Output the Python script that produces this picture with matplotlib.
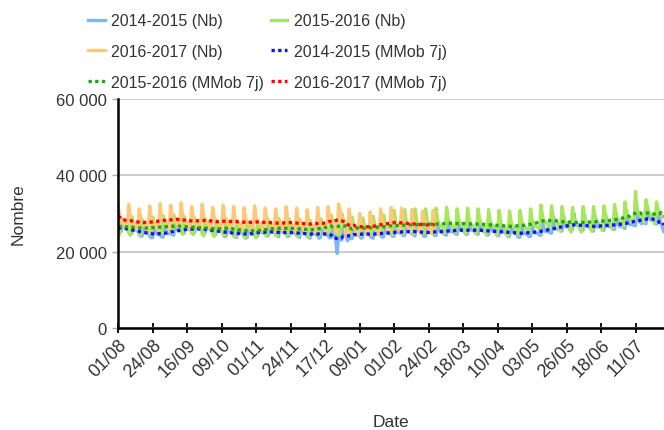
import numpy as np
import pandas as pd
from matplotlib import pyplot as plt

# daily counts, in hundreds, one line = one week (starting 01/08)
nb_2014 = [
    258, 251, 253, 280, 268, 263, 261,  252, 245, 247, 275, 262, 255, 257,
    245, 240, 241, 270, 256, 250, 249,  241, 236, 237, 266, 251, 246, 245,
    243, 238, 238, 268, 253, 248, 247,  249, 244, 243, 274, 259, 254, 255,
    253, 248, 248, 278, 263, 258, 257,  255, 250, 250, 281, 265, 260, 259,
    253, 247, 249, 279, 262, 258, 257,  250, 243, 245, 273, 258, 255, 253,
    246, 239, 241, 269, 256, 249, 251,  242, 238, 237, 269, 252, 249, 247,
    240, 235, 237, 265, 252, 245, 247,  246, 239, 241, 269, 256, 249, 251,
    246, 243, 241, 273, 256, 253, 251,  244, 241, 239, 271, 254, 251, 249,
    246, 239, 241, 269, 256, 249, 251,  242, 239, 237, 267, 254, 247, 249,
    240, 237, 235, 267, 250, 247, 245,  242, 235, 237, 265, 252, 245, 247,
    242, 236, 236, 262, 250, 232, 195,  240, 232, 230, 262, 250, 240, 228,
    240, 234, 234, 264, 249, 244, 244,  242, 235, 237, 265, 252, 245, 247,
    240, 237, 235, 267, 250, 247, 245,  243, 238, 238, 270, 253, 247, 249,
    245, 240, 240, 272, 255, 249, 251,  247, 242, 242, 274, 257, 251, 253,
    246, 243, 241, 275, 256, 252, 251,  245, 240, 240, 271, 255, 250, 249,
    247, 242, 242, 273, 257, 251, 252,  248, 244, 243, 278, 259, 253, 253,
    250, 246, 245, 280, 261, 255, 255,  251, 245, 246, 279, 260, 256, 255,
    250, 246, 245, 281, 261, 254, 255,  249, 243, 244, 277, 259, 253, 253,
    247, 241, 242, 275, 257, 251, 251,  245, 239, 240, 273, 255, 249, 249,
    243, 237, 238, 271, 253, 247, 247,  245, 239, 240, 273, 255, 249, 249,
    248, 243, 243, 280, 259, 253, 252,  254, 249, 248, 286, 265, 259, 259,
    260, 254, 254, 294, 271, 264, 265,  264, 258, 258, 300, 275, 268, 269,
    262, 256, 256, 296, 273, 267, 266,  260, 254, 254, 294, 271, 264, 265,
    262, 256, 256, 298, 273, 266, 265,  264, 258, 258, 302, 275, 267, 266,
    268, 262, 261, 308, 279, 271, 271,  273, 268, 268, 316, 285, 277, 273,
    280, 274, 273, 318, 291, 283, 283,  279, 273, 272, 310, 289, 275, 262,
    252,
]

nb_2015 = [
    252, 245, 288, 277, 267, 265, 260,  250, 243, 292, 273, 263, 265, 258,
    246, 243, 284, 273, 263, 261, 256,  249, 245, 290, 272, 265, 263, 258,
    251, 246, 294, 275, 266, 265, 260,  253, 248, 296, 278, 267, 268, 261,
    252, 245, 292, 276, 266, 265, 260,  249, 244, 288, 275, 264, 263, 259,
    247, 241, 287, 272, 263, 261, 257,  245, 240, 284, 270, 260, 260, 255,
    247, 242, 286, 271, 263, 261, 258,  243, 238, 282, 268, 258, 257, 254,
    240, 235, 278, 265, 256, 254, 251,  241, 236, 280, 266, 257, 255, 251,
    245, 240, 284, 270, 261, 259, 255,  247, 242, 287, 272, 262, 261, 257,
    246, 243, 285, 273, 262, 262, 257,  245, 240, 284, 270, 260, 260, 255,
    243, 238, 282, 268, 258, 258, 253,  247, 242, 286, 272, 262, 262, 257,
    252, 248, 296, 282, 274, 262, 242,  252, 248, 300, 286, 278, 272, 240,
    247, 242, 290, 272, 262, 262, 255,  247, 242, 288, 272, 263, 262, 256,
    249, 244, 292, 274, 264, 264, 257,  251, 246, 296, 276, 266, 266, 259,
    250, 243, 308, 280, 268, 266, 261,  252, 245, 310, 282, 270, 268, 263,
    252, 245, 312, 282, 270, 267, 262,  254, 247, 312, 284, 272, 270, 265,
    254, 247, 314, 284, 272, 269, 264,  256, 249, 316, 286, 274, 272, 267,
    256, 249, 312, 286, 274, 272, 267,  254, 247, 314, 284, 272, 270, 265,
    254, 247, 312, 284, 272, 270, 265,  252, 245, 310, 282, 270, 268, 263,
    250, 243, 308, 280, 268, 266, 261,  248, 241, 306, 278, 266, 264, 259,
    250, 243, 308, 280, 268, 266, 261,  254, 247, 312, 284, 272, 270, 265,
    262, 255, 322, 292, 280, 278, 273,  264, 257, 320, 294, 282, 280, 275,
    260, 253, 318, 290, 278, 276, 271,  258, 251, 316, 288, 276, 274, 269,
    258, 251, 318, 288, 276, 274, 269,  260, 253, 318, 290, 278, 276, 271,
    262, 255, 320, 292, 280, 278, 273,  266, 259, 324, 296, 284, 282, 277,
    272, 265, 330, 302, 290, 288, 283,  282, 275, 358, 310, 300, 296, 290,
    284, 277, 336, 314, 302, 300, 295,  280, 273, 330, 310, 298, 296, 291,
    290,
]

nb_2016 = [
    318, 294, 283, 276, 279, 263, 261,  324, 288, 281, 274, 276, 259, 258,
    312, 287, 277, 270, 272, 257, 255,  320, 286, 279, 272, 274, 258, 257,
    326, 290, 283, 276, 278, 261, 260,  322, 296, 285, 278, 280, 265, 262,
    328, 291, 281, 276, 277, 261, 260,  318, 292, 280, 274, 276, 260, 260,
    324, 290, 282, 277, 278, 262, 261,  316, 289, 279, 272, 274, 258, 258,
    322, 290, 279, 275, 275, 259, 260,  318, 287, 278, 274, 273, 258, 258,
    315, 286, 277, 271, 272, 256, 255,  320, 288, 277, 273, 274, 257, 257,
    314, 287, 276, 272, 271, 256, 256,  312, 284, 275, 270, 269, 254, 254,
    318, 285, 276, 271, 271, 256, 255,  314, 283, 274, 269, 270, 254, 254,
    310, 282, 273, 267, 268, 252, 252,  316, 284, 274, 269, 268, 254, 253,
    318, 290, 282, 280, 276, 250, 250,  325, 305, 290, 280, 270, 245, 240,
    312, 280, 270, 264, 262, 248, 246,  300, 276, 266, 260, 258, 244, 244,
    304, 278, 268, 262, 262, 246, 246,  312, 284, 274, 268, 266, 252, 250,
    316, 288, 276, 272, 272, 256, 254,  314, 284, 275, 270, 270, 254, 252,
    310, 283, 272, 268, 268, 252, 250,  306, 282, 271, 266, 266, 250, 248,
    308, 280,
]

labels = ["2014-2015", "2015-2016", "2016-2017"]
tick_days = [0, 23, 46, 69, 92, 115, 138, 161, 184, 207, 230, 253, 276, 299, 322, 345]
tick_labels = ["01/08", "24/08", "16/09", "09/10", "01/11", "24/11", "17/12", "09/01",
               "01/02", "24/02", "18/03", "10/04", "03/05", "26/05", "18/06", "11/07"]
y_ticks = [0, 20000, 40000, 60000]
y_labels = ["0", "20 000", "40 000", "60 000"]

plt.rcParams['font.family'] = ['Liberation Sans', 'DejaVu Sans']
txt = '#333333'

fig = plt.figure(figsize=(6.64, 4.31), dpi=100)
ax = fig.add_axes([0.178, 0.237, 0.822, 0.531])

series = [np.array(s) * 100 for s in (nb_2014, nb_2015, nb_2016)]
day_colors = ['#80b6f7', '#a8e65a', '#ffc878']
ma_colors = ['#1010ff', '#1ea51e', '#ff0000']

h_day = []
for s, c, lab in zip(series, day_colors, labels):
    h, = ax.plot(np.arange(len(s)), s, color=c, lw=2.4, label=lab + " (Nb)")
    h_day.append(h)
h_ma = []
for s, c, lab in zip(series, ma_colors, labels):
    ma = pd.Series(s).rolling(7, center=True, min_periods=1).mean()
    h, = ax.plot(np.arange(len(s)), ma, color=c, lw=2.4, linestyle=(0, (1, 1)),
                 label=lab + " (MMob 7j)")
    h_ma.append(h)

ax.set_xlim(0, 364)
ax.set_ylim(0, 60000)
ax.set_yticks(y_ticks)
ax.set_yticklabels(y_labels)
ax.set_xticks(tick_days)
ax.set_xticklabels(tick_labels, rotation=45, ha='right', rotation_mode='anchor')
ax.tick_params(axis='x', labelsize=13, labelcolor=txt)
ax.tick_params(axis='y', labelsize=12, labelcolor=txt)
ax.tick_params(axis='x', direction='inout', length=7, width=1.3, pad=2)
ax.tick_params(axis='y', length=4, width=1, color='#aaaaaa', pad=4)
ax.grid(axis='y', color='#cccccc', lw=1.5)
ax.set_axisbelow(True)
for side in ['top', 'right']:
    ax.spines[side].set_visible(False)
for side in ['left', 'bottom']:
    ax.spines[side].set_linewidth(1.8)
ax.set_xlabel("Date", fontsize=12.5, color=txt, labelpad=25)
ax.set_ylabel("Nombre", fontsize=12.5, color=txt, labelpad=22)

handles = [h_day[0], h_day[2], h_ma[1], h_day[1], h_ma[0], h_ma[2]]
fig.legend(handles=handles, labels=[h.get_label() for h in handles],
           loc='upper left', bbox_to_anchor=(0.111, 1.0), ncol=2, frameon=False,
           fontsize=11.5, labelcolor=txt, handlelength=1.05, handletextpad=0.4,
           columnspacing=0.4, labelspacing=0.98)

fig.savefig("out.png", dpi=100)
